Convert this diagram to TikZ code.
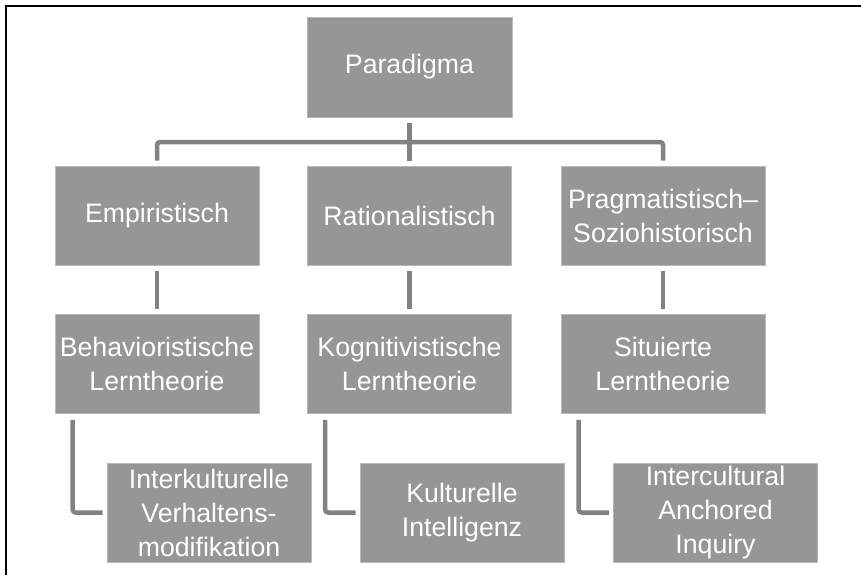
\documentclass[tikz,border=0pt]{standalone}
\usepackage{fontspec}
\setmainfont{Liberation Sans}
\usetikzlibrary{calc}
\definecolor{boxfill}{RGB}{150,150,150}
\definecolor{boxline}{RGB}{185,185,185}
\definecolor{linkgray}{RGB}{130,130,130}
\begin{document}
\begin{tikzpicture}[x=1pt,y=-1pt,
  box/.style={fill=boxfill,draw=boxline,line width=0.8pt,minimum width=204pt,minimum height=99pt,
    inner sep=0pt,align=center,text=white,font=\fontsize{26.7}{34}\selectfont},
  conn/.style={draw=linkgray,line width=4.5pt,rounded corners=3pt},
  frameline/.style={draw=black,line width=1.8pt}]
\useasboundingbox (0,0) rectangle (861,575);
% page frame (left and top edges)
\draw[frameline] (6,575) -- (6,6) -- (861,6);

% level 0
\node[box,minimum width=205pt,minimum height=100pt] (par) at (409.5,67) {Paradigma};

% level 1
\node[box] (emp) at (157,215.5) {Empiristisch};
\node[box] (rat) at (409.5,215.5) {Rationalistisch};
\node[box] (prag) at (663,215.5) {Pragmatistisch–\\Soziohistorisch};

% level 2
\node[box] (beh) at (157,364) {Behavioristische\\Lerntheorie};
\node[box] (kog) at (409.5,364) {Kognitivistische\\Lerntheorie};
\node[box] (sit) at (663,364) {Situierte\\Lerntheorie};

% level 3
\node[box] (ikv) at (209,512.5) {Interkulturelle\\Verhaltens-\\modifikation};
\node[box] (kin) at (462,512.5) {Kulturelle\\Intelligenz};
\node[box] (iai) at (715.5,512.5) {Intercultural\\Anchored\\Inquiry};

% branching bar below the root
\coordinate (bar) at (409.5,142);
\draw[conn] ([yshift=-6pt]par.south) -- ([yshift=5pt]rat.north);
\draw[conn] ([yshift=5pt]emp.north) |- (bar) -| ([yshift=5pt]prag.north);

% level 1 to level 2
\draw[conn] ([yshift=-6pt]emp.south) -- ([yshift=5pt]beh.north);
\draw[conn] ([yshift=-6pt]rat.south) -- ([yshift=5pt]kog.north);
\draw[conn] ([yshift=-6pt]prag.south) -- ([yshift=5pt]sit.north);

% level 2 to level 3 elbows
\draw[conn] ([xshift=18pt,yshift=-6pt]beh.south west) |- ([xshift=-4pt]ikv.west);
\draw[conn] ([xshift=18pt,yshift=-6pt]kog.south west) |- ([xshift=-4pt]kin.west);
\draw[conn] ([xshift=18pt,yshift=-6pt]sit.south west) |- ([xshift=-4pt]iai.west);
\end{tikzpicture}
\end{document}
